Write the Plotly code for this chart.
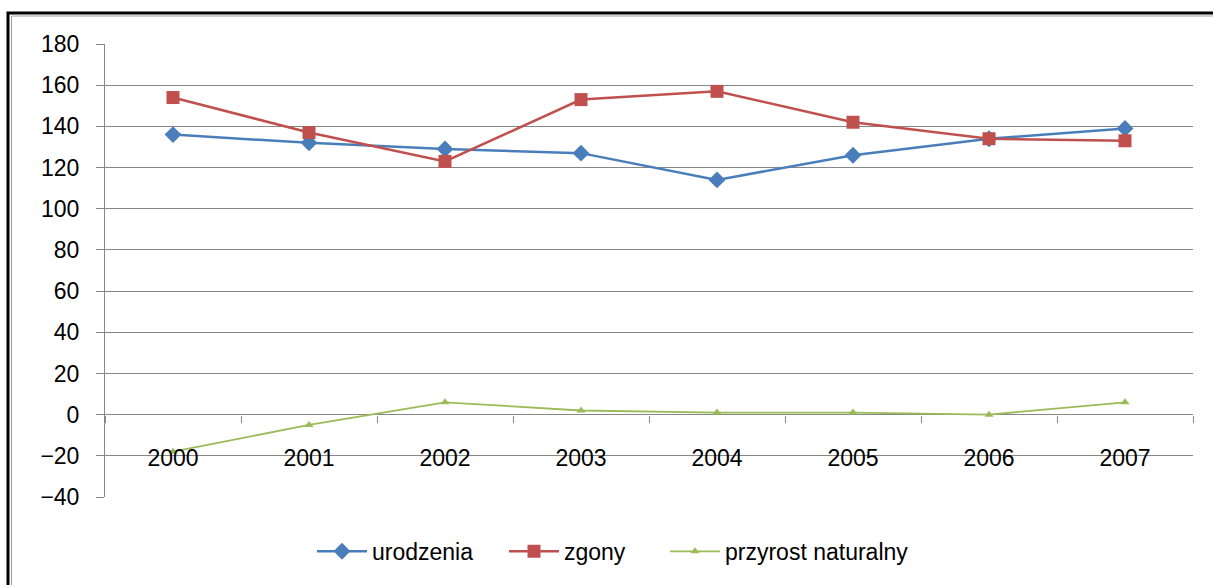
import plotly.graph_objects as go

years = ["2000", "2001", "2002", "2003", "2004", "2005", "2006", "2007"]
urodzenia = [136, 132, 129, 127, 114, 126, 134, 139]
zgony = [154, 137, 123, 153, 157, 142, 134, 133]
przyrost = [-18, -5, 6, 2, 1, 1, 0, 6]

y_min, y_max = -40, 180

fig = go.Figure()
fig.add_trace(go.Scatter(x=years, y=urodzenia, name="urodzenia", mode="lines+markers",
                         line=dict(color="#4A7EBB", width=2.5), legend="legend",
                         marker=dict(symbol="diamond", size=13, color="#4A7EBB")))
fig.add_trace(go.Scatter(x=years, y=zgony, name="zgony", mode="lines+markers",
                         line=dict(color="#C0504D", width=2.5), legend="legend2",
                         marker=dict(symbol="square", size=13, color="#C0504D")))
fig.add_trace(go.Scatter(x=years, y=przyrost, name="przyrost naturalny", mode="lines+markers",
                         line=dict(color="#9BBB59", width=1.8), legend="legend3",
                         marker=dict(symbol="triangle-up", size=8, color="#9BBB59")))

zero_pos = (0 - y_min) / (y_max - y_min)

def px_x(p):
    return (p - 105) / 1088

leg_common = dict(orientation="h", xanchor="left", y=-0.12, yanchor="middle",
                  font=dict(size=23), itemwidth=50, bgcolor="rgba(0,0,0,0)")

fig.update_layout(
    width=1213, height=585,
    margin=dict(l=105, r=20, t=44, b=88),
    paper_bgcolor="white", plot_bgcolor="white",
    font=dict(family="Liberation Sans", size=23, color="#000000"),
    xaxis=dict(type="category", anchor="free", position=zero_pos,
               range=[-0.5, 7.5], showgrid=False, showline=False, zeroline=False,
               ticks="outside", tickson="boundaries", ticklen=7, tickcolor="#868686",
               ticklabelstandoff=27, tickfont=dict(size=23)),
    yaxis=dict(range=[y_min, y_max], dtick=20, showgrid=True, gridcolor="#868686", gridwidth=1,
               zeroline=True, zerolinecolor="#868686", zerolinewidth=1,
               showline=True, linecolor="#868686", linewidth=1,
               ticks="outside", ticklen=8, tickcolor="#868686",
               ticklabelstandoff=12, tickfont=dict(size=23)),
    legend=dict(x=px_x(312), **leg_common),
    legend2=dict(x=px_x(504), **leg_common),
    legend3=dict(x=px_x(665), **leg_common),
    showlegend=True,
)

# chart frame
fig.add_shape(type="rect", xref="paper", yref="paper",
              x0=(8 - 105) / 1088, x1=(1230 - 105) / 1088,
              y0=(497 - 620) / 453, y1=(497 - 13) / 453,
              line=dict(color="black", width=3), fillcolor="rgba(0,0,0,0)", layer="below")
fig.add_shape(type="rect", xref="paper", yref="paper",
              x0=(11.5 - 105) / 1088, x1=(1230 - 105) / 1088,
              y0=(497 - 620) / 453, y1=(497 - 16) / 453,
              line=dict(color="#A0A0A0", width=1), fillcolor="rgba(0,0,0,0)", layer="below")

fig.write_html("out.html", config={"displayModeBar": False},
               post_script="document.body.style.margin='0';document.body.style.overflow='hidden';")
